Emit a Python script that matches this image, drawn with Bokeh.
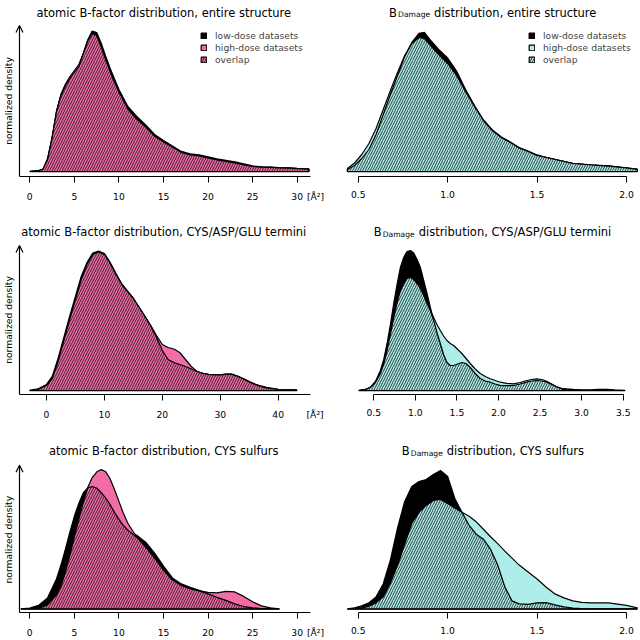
import math
import numpy as np
from bokeh.plotting import figure
from bokeh.layouts import gridplot
from bokeh.models import Range1d, FixedTicker, Arrow, OpenHead, Label, Legend, LegendItem, LinearAxis
from bokeh.embed import file_html
from bokeh.resources import INLINE

FONT = "DejaVu Sans"
PINK = "#F26DA8"
CYAN = "#AEEEEA"

# ---------------- data (densities on an arbitrary, common scale) ----------------
# atomic B-factor, entire structure
bf_all_x = [0, 1.0, 1.5, 2.0, 2.5, 3.0, 3.5, 4.0, 4.5, 5.0, 5.5, 6.0, 6.5, 7.0, 7.5, 8.0, 8.5, 9.0, 9.5, 10,
            11, 12, 13, 14, 15, 16, 17, 18, 19, 20, 21, 22, 23, 24, 25, 26, 27, 28, 29, 30, 31.3]
bf_all_low = [0, 0.8, 2.5, 13, 34, 60, 76, 85.5, 93, 99, 105, 117.5, 131.5, 140.5, 139, 128.5, 115.5, 103.5, 92.5, 82,
              65, 55, 46.5, 37, 31, 25.5, 20, 17.5, 16.5, 14.5, 12.5, 11, 9.5, 7.5, 5.5, 4.7, 4.3, 3.9, 3.5, 3, 2.5]
bf_all_high = [0, 0.8, 2.5, 12, 33, 60, 77.5, 87.5, 95, 101, 107, 118, 130.5, 138, 136, 125, 112, 100, 89.5, 79.5,
               62.5, 52.5, 44.5, 35.5, 29.5, 24.5, 19, 16.5, 15.5, 13.5, 11.5, 10, 8.5, 6.5, 5, 4.4, 4.1, 3.7, 3.4, 2.9, 2.4]

# B_Damage, entire structure
bd_all_x = [0.44, 0.48, 0.52, 0.56, 0.60, 0.64, 0.68, 0.72, 0.76, 0.80, 0.84, 0.87, 0.90, 0.95, 1.00, 1.05, 1.10,
            1.15, 1.20, 1.25, 1.30, 1.35, 1.40, 1.45, 1.50, 1.55, 1.60, 1.70, 1.80, 1.90, 2.00, 2.06]
bd_all_low = [2, 6, 13, 22, 37, 57, 77, 96, 115, 129, 138, 139, 132, 122, 113.5, 100.5, 82,
              66, 51.5, 41.5, 34.5, 29.5, 24, 20.5, 16.5, 14, 12, 8, 6.7, 5.5, 3.7, 2.3]
bd_all_high = [3, 8.5, 17, 28, 43, 62, 81, 99, 116, 128, 134, 133, 127, 117, 108, 96, 80,
               65, 51, 41, 34, 29, 23.5, 20, 16, 14, 12, 8, 6.5, 5.3, 3.5, 2.2]

# atomic B-factor, CYS/ASP/GLU termini
bf_term_x = [-2.9, -1.5, 0, 1, 2, 3, 4, 5, 6, 7, 8, 9, 10, 11, 12, 13, 14, 15, 16, 17, 18, 19, 20, 21, 22,
             23, 24, 25, 26, 27, 28, 29, 30, 31, 32, 33, 34, 35, 36, 37, 38, 40, 43.2]
bf_term_low = [0, 1.5, 6, 14, 32, 53, 74, 94, 114, 128, 137.5, 139.5, 137, 128, 117, 106.5, 99, 92, 83, 74, 64.5,
               53, 40, 31, 28, 26, 24, 21.5, 19, 17, 16, 15.5, 15.5, 16.5, 16.5, 14.5, 12, 9, 6.5, 4.5, 3, 1, 0.3]
bf_term_high = [0, 1, 5, 12, 29, 50, 71, 91, 111, 126, 136, 138.5, 136, 127, 116, 106, 99, 92, 83, 74, 65,
                55, 46, 43, 41.5, 38, 31, 24, 19, 17, 16, 15.5, 15.5, 16, 16, 14, 11.5, 8.5, 6, 4, 2.5, 1, 0.3]

# B_Damage, CYS/ASP/GLU termini
bd_term_x = [0.32, 0.40, 0.46, 0.52, 0.58, 0.62, 0.66, 0.70, 0.74, 0.78, 0.82, 0.86, 0.90, 0.94, 0.98, 1.02,
             1.06, 1.10, 1.14, 1.18, 1.22, 1.26, 1.30, 1.34, 1.38, 1.42, 1.46, 1.51, 1.56, 1.61, 1.66, 1.72,
             1.78, 1.84, 1.90, 1.96, 2.02, 2.10, 2.18, 2.26, 2.34, 2.40, 2.46, 2.52, 2.58, 2.64, 2.70, 2.76,
             2.82, 2.90, 3.00, 3.10, 3.20, 3.30, 3.40, 3.52]
bd_term_low = [0, 1, 3.3, 9, 20, 31, 47, 66, 87, 106, 123, 133, 139, 140, 137.5, 131,
               123, 110, 97, 83, 70, 58, 47, 36, 28, 25, 25, 26.5, 28, 27, 23, 17,
               12, 9.5, 8.3, 6.5, 5.2, 4.8, 5, 6.5, 8.3, 9.5, 10, 9.5, 8.3, 6, 3.5, 2.2,
               1.5, 1, 0.7, 0.7, 1, 1, 0.6, 0.2]
bd_term_high = [0, 1, 3, 8, 17, 27, 40, 56, 73, 88, 100, 107, 112, 113, 111, 107,
                102, 95, 87, 80, 73, 66, 60, 54.5, 50, 47, 45, 41, 37, 32, 27, 21.5,
                17, 14, 11.7, 10, 8.3, 7.2, 6.7, 8, 10, 11, 11.7, 11, 9.3, 6.5, 3.5, 1.5,
                0.5, 0, 0, 0, 0, 0, 0, 0]

# atomic B-factor, CYS sulfurs
bf_cys_x = [-1.0, 0, 1, 2, 3, 3.5, 4, 4.5, 5, 5.5, 6, 6.5, 7, 7.5, 8, 8.5, 9, 9.5, 10, 10.5, 11,
            12, 13, 14, 15, 16, 17, 18, 19, 20, 21, 22, 23, 24, 25, 26, 27, 28]
bf_cys_low = [0, 0.7, 3.5, 11, 30, 44, 60, 77, 93, 106, 116.5, 121.5, 123, 121.5, 117, 111.5, 105, 97, 90, 84, 79,
              74, 67, 56, 43, 31, 25, 21.5, 18.5, 15, 11.5, 8.5, 5, 2.3, 1, 0.3, 0.1, 0]
bf_cys_high = [0, 0, 0.5, 4, 14, 23, 37, 54, 72, 90, 107, 122, 132, 137.5, 140, 138, 131, 120, 108, 96, 86,
               72, 62, 51, 39, 29, 23.5, 20, 18, 16.5, 16, 17.5, 17, 12.5, 7, 3, 1, 0]

# B_Damage, CYS sulfurs
bd_cys_x = [0.44, 0.48, 0.52, 0.56, 0.60, 0.64, 0.68, 0.72, 0.76, 0.80, 0.84, 0.88, 0.92, 0.96, 1.00, 1.04,
            1.08, 1.12, 1.16, 1.20, 1.24, 1.28, 1.32, 1.36, 1.40, 1.45, 1.50, 1.55, 1.60, 1.65, 1.70, 1.75,
            1.80, 1.90, 2.00, 2.06]
bd_cys_low = [0, 1, 3, 6, 12, 25, 49, 81, 108, 123, 128, 130, 135, 139, 133, 111,
              97, 84, 75, 70, 60, 44, 22, 8, 5, 4.5, 6, 6.3, 4, 2, 0.8, 0.3,
              0, 0, 0, 0]
bd_cys_high = [0, 0.3, 1, 2.5, 6, 12, 26, 43.5, 65, 86, 97, 104, 109, 110, 106, 101.5,
               97, 93, 87.5, 80, 72.5, 65.5, 58, 51, 44, 37, 30, 22, 15, 11, 8, 6.5,
               6, 6, 3.5, 1]

bf_ticks_a = [0, 5, 10, 15, 20, 25, 30]
bf_ticks_b = [0, 10, 20, 30, 40]
bd_ticks_a = [0.5, 1.0, 1.5, 2.0]
bd_ticks_b = [0.5, 1.0, 1.5, 2.0, 2.5, 3.0, 3.5]
unit_label = "[Å²]"

legend_labels = ["low-dose datasets", "high-dose datasets", "overlap"]
title_left = ["atomic B-factor distribution, entire structure",
              "atomic B-factor distribution, CYS/ASP/GLU termini",
              "atomic B-factor distribution, CYS sulfurs"]
title_right = ["distribution, entire structure",
               "distribution, CYS/ASP/GLU termini",
               "distribution, CYS sulfurs"]

# ---------------- layout constants (pixels / view ranges) ----------------
ROW_H = [212, 218, 210]
ROW_BOTTOM = [36, 36, 27]
ROW_YR = [(-5.0, 171.0), (-4.0, 178.0), (-3.7, 179.3)]
ARROW_TOP = [146.0, 145.0, 144.3]
TITLE_DY = [12.3, 19.7, 20.7]
YLAB_DY = [100.5, 107.5, 109.2]
LEFT_W, RIGHT_W = 328, 312
LEFT_XR = [(-3.287, 33.513), (-7.941, 48.684), (-3.287, 33.513)]
LEFT_AXIS_END = [31.49, 45.58, 31.49]
ARROW_X = [-1.156, -4.661, -1.156]
UNIT_POS = [32.05, 46.37, 32.05]
RIGHT_XR = [(0.33396, 2.0783), (-0.0449, 3.7083), (0.33396, 2.0783)]
B_OFF = [60.6, 45.15, 73.3]
TICK_STANDOFF = 8


def base_fig(width, height, xr, yr, bottom):
    p = figure(width=width, height=height, x_range=Range1d(*xr), y_range=Range1d(*yr),
               output_backend="svg", toolbar_location=None, y_axis_location=None, title=None,
               min_border_left=0, min_border_right=0, min_border_top=0, min_border_bottom=bottom)
    p.outline_line_color = None
    p.xgrid.visible = False
    p.ygrid.visible = False
    p.background_fill_color = "white"
    p.border_fill_color = "white"
    return p


def style_ticks(ax, ticks):
    ax.ticker = FixedTicker(ticks=ticks)
    ax.minor_tick_line_color = None
    ax.major_tick_in = 0
    ax.major_tick_out = 6
    ax.axis_line_color = "black"
    ax.axis_line_width = 1
    ax.major_tick_line_width = 1
    ax.major_label_text_font = FONT
    ax.major_label_text_font_size = "9.2px"
    ax.major_label_text_color = "black"


def draw_densities(p, x, low, high, color):
    n = len(x)
    xs = list(x) + list(x)[::-1]
    zeros = [0.0] * n
    over = list(np.minimum(np.array(low, float), np.array(high, float)))
    r_low = p.patch(xs, list(low) + zeros, fill_color="black", line_color="black", line_width=1.3)
    r_high = p.patch(xs, list(high) + zeros, fill_color=color, line_color="black", line_width=1.2)
    r_over = p.patch(xs, over + zeros, fill_color=color, line_color="black", line_width=1.2,
                     hatch_pattern="/", hatch_color="black", hatch_scale=5, hatch_weight=0.75)
    return r_low, r_high, r_over


def add_legend(p, rends, loc):
    items = [LegendItem(label=l, renderers=[r]) for l, r in zip(legend_labels, rends)]
    lg = Legend(items=items, location=loc, border_line_color=None, background_fill_alpha=0,
                padding=0, margin=0, spacing=1, label_standoff=8, glyph_width=7, glyph_height=7,
                label_height=11, label_text_font=FONT, label_text_font_size="9.2px")
    p.add_layout(lg)


def add_label(p, x, y, text, size, dx=0.0, dy=0.0, align="left", baseline="alphabetic", angle=0.0):
    p.add_layout(Label(x=x, y=y, x_offset=dx, y_offset=dy, text=text, angle=angle,
                       text_align=align, text_baseline=baseline,
                       text_font=FONT, text_font_size=size, text_color="black"))


left_data = [(bf_all_x, bf_all_low, bf_all_high, bf_ticks_a),
             (bf_term_x, bf_term_low, bf_term_high, bf_ticks_b),
             (bf_cys_x, bf_cys_low, bf_cys_high, bf_ticks_a)]
right_data = [(bd_all_x, bd_all_low, bd_all_high, bd_ticks_a),
              (bd_term_x, bd_term_low, bd_term_high, bd_ticks_b),
              (bd_cys_x, bd_cys_low, bd_cys_high, bd_ticks_a)]

rows = []
for i in range(3):
    yr = ROW_YR[i]
    # ---- left panel ----
    x, lo, hi, ticks = left_data[i]
    xr = LEFT_XR[i]
    pl = base_fig(LEFT_W, ROW_H[i], xr, yr, ROW_BOTTOM[i])
    ax = pl.xaxis[0]
    style_ticks(ax, ticks)
    ax.bounds = (ARROW_X[i], LEFT_AXIS_END[i])
    ax.major_label_text_font_size = "0px"
    ax.major_label_text_color = None
    ax.major_label_standoff = 0
    # tick-label axis (carries the numbers and the unit)
    lab_ticks = list(ticks) + [UNIT_POS[i]]
    overrides = {t: str(t) for t in ticks}
    overrides[UNIT_POS[i]] = unit_label
    ax2 = LinearAxis(ticker=FixedTicker(ticks=lab_ticks), major_label_overrides=overrides,
                     axis_line_color=None, major_tick_line_color=None, minor_tick_line_color=None,
                     major_tick_in=0, major_tick_out=0, minor_tick_in=0, minor_tick_out=0,
                     major_label_standoff=TICK_STANDOFF, major_label_text_font=FONT,
                     major_label_text_font_size="9.2px", major_label_text_color="black")
    pl.add_layout(ax2, "below")
    rl = draw_densities(pl, x, lo, hi, PINK)
    pl.add_layout(Arrow(x_start=ARROW_X[i], y_start=yr[0], x_end=ARROW_X[i], y_end=ARROW_TOP[i],
                        line_color="black", line_width=1.2,
                        end=OpenHead(size=7, line_color="black", line_width=1.2)))
    add_label(pl, xr[0], yr[1], "normalized density", "9.2px", dx=7.5, dy=-YLAB_DY[i],
              align="center", baseline="middle", angle=math.pi / 2)
    add_label(pl, xr[0], yr[1], title_left[i], "11.5px", dx=163.3, dy=-TITLE_DY[i], align="center")
    if i == 0:
        add_legend(pl, rl, (200, 111))

    # ---- right panel ----
    x, lo, hi, ticks = right_data[i]
    xr = RIGHT_XR[i]
    pr = base_fig(RIGHT_W, ROW_H[i], xr, yr, ROW_BOTTOM[i])
    axr = pr.xaxis[0]
    style_ticks(axr, ticks)
    axr.bounds = (ticks[0], ticks[-1])
    axr.major_label_standoff = TICK_STANDOFF
    axr.major_label_overrides = {t: f"{t:.1f}" for t in ticks}
    rr = draw_densities(pr, x, lo, hi, CYAN)
    bo = B_OFF[i]
    add_label(pr, xr[0], yr[1], "B", "11.5px", dx=bo, dy=-TITLE_DY[i])
    add_label(pr, xr[0], yr[1], "Damage", "7.6px", dx=bo + 9.0, dy=-TITLE_DY[i] - 2)
    add_label(pr, xr[0], yr[1], title_right[i], "11.5px", dx=bo + 45.0, dy=-TITLE_DY[i])
    if i == 0:
        add_legend(pr, rr, (200, 111))
    rows.append([pl, pr])

grid = gridplot(rows, toolbar_location=None)
open("out.html", "w").write(file_html(grid, INLINE))
